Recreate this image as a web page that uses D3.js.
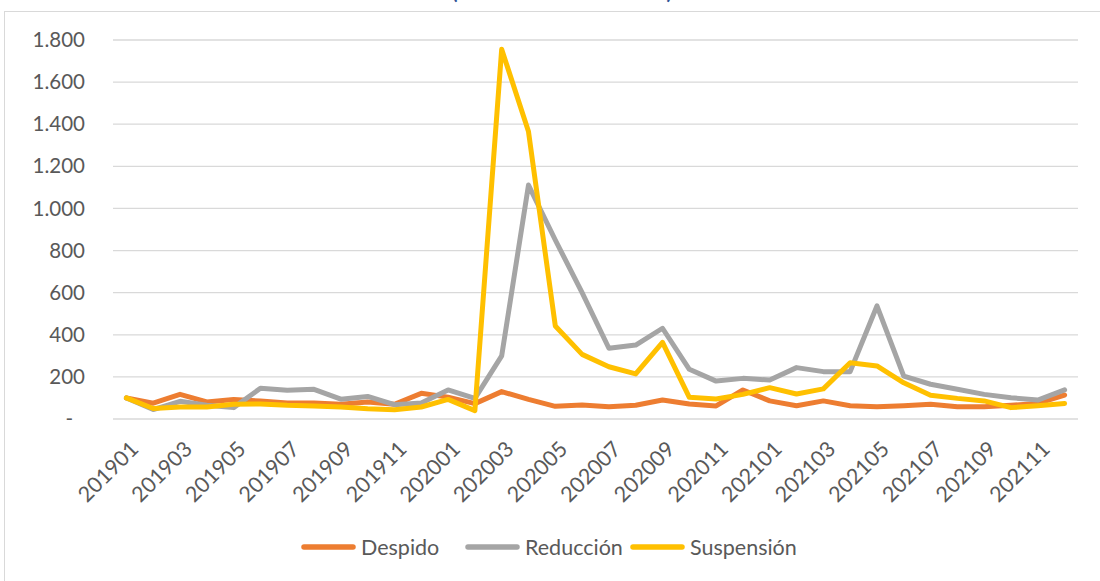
<!DOCTYPE html>
<html>
<head>
<meta charset="utf-8">
<script src="https://cdn.jsdelivr.net/npm/d3@7"></script>
<style>
  body { margin: 0; background: #fff; }
  svg { display: block; font-family: Lato, "Noto Sans", sans-serif; }
</style>
</head>
<body>
<svg id="chart" width="1100" height="581"></svg>
<script>
// months (x categories)
const months = [
  '201901','201902','201903','201904','201905','201906','201907','201908','201909','201910','201911','201912',
  '202001','202002','202003','202004','202005','202006','202007','202008','202009','202010','202011','202012',
  '202101','202102','202103','202104','202105','202106','202107','202108','202109','202110','202111','202112'
];

const despido = [100, 75, 117, 81, 93, 85, 76, 76, 70, 81, 70, 122,
  104, 73, 130, 93, 60, 66, 58, 65, 90, 71, 62, 138,
  86, 63, 86, 63, 58, 63, 70, 58, 58, 65, 74, 114];

const reduccion = [100, 45, 84, 65, 54, 146, 137, 141, 94, 107, 68, 76,
  138, 98, 300, 1111, 850, 600, 336, 351, 431, 236, 180, 193,
  185, 244, 225, 225, 537, 204, 165, 141, 117, 101, 90, 138];

const suspension = [100, 50, 57, 57, 70, 71, 65, 62, 57, 49, 44, 57,
  93, 40, 1756, 1365, 442, 307, 248, 214, 364, 103, 95, 117,
  149, 119, 143, 267, 252, 172, 113, 98, 86, 54, 63, 74];

const seriesNames = ['Despido', 'Reducción', 'Suspensión'];
const yTicks = [0, 200, 400, 600, 800, 1000, 1200, 1400, 1600, 1800];

const series = [
  { name: seriesNames[0], values: despido, color: '#ED7D31' },
  { name: seriesNames[1], values: reduccion, color: '#A5A5A5' },
  { name: seriesNames[2], values: suspension, color: '#FFC000' }
];

const svg = d3.select('#chart');
const plotLeft = 113, plotRight = 1078, plotTop = 40, plotBottom = 419;
const textColor = '#595959';

// outer frame + title (cut at the top, as in the source)
svg.append('rect')
  .attr('x', 4.5).attr('y', 11.5)
  .attr('width', 1100).attr('height', 600)
  .attr('fill', 'none')
  .attr('stroke', '#D9D9D9');

svg.append('text')
  .attr('x', 562).attr('y', -1)
  .attr('text-anchor', 'middle')
  .attr('font-size', 20)
  .attr('font-weight', 'bold')
  .attr('fill', '#2F5496')
  .attr('textLength', 220)
  .text('(Índice base 201901 = 100)');

const x = d3.scaleBand().domain(months).range([plotLeft, plotRight]);
const y = d3.scaleLinear().domain([0, 1800]).range([plotBottom, plotTop]);

const loc = d3.formatLocale({ decimal: ',', thousands: '.', grouping: [3], currency: ['', ''] });
const fmt = loc.format(',d');

// gridlines
svg.append('g')
  .selectAll('line')
  .data(yTicks)
  .join('line')
  .attr('x1', plotLeft).attr('x2', plotRight)
  .attr('y1', d => y(d)).attr('y2', d => y(d))
  .attr('stroke', '#D9D9D9')
  .attr('stroke-width', 1.3);

// y axis labels
const yAxis = svg.append('g')
  .attr('transform', `translate(${plotLeft - 28},0)`)
  .call(d3.axisLeft(y).tickValues(yTicks).tickSize(0).tickPadding(0)
    .tickFormat(d => d === 0 ? '-' : fmt(d)));
yAxis.select('.domain').remove();
yAxis.selectAll('text')
  .attr('font-family', 'Lato, sans-serif')
  .attr('font-size', 20.5)
  .attr('fill', textColor)
  .attr('dx', d => d === 0 ? -12 : 0);

// x axis labels (every other month)
const xAxis = svg.append('g')
  .attr('transform', `translate(0,${plotBottom})`)
  .call(d3.axisBottom(x).tickValues(months.filter((m, i) => i % 2 === 0)).tickSize(0).tickPadding(0));
xAxis.select('.domain').remove();
xAxis.selectAll('text')
  .attr('font-family', 'Lato, sans-serif')
  .attr('font-size', 21.5)
  .attr('fill', textColor)
  .attr('text-anchor', 'end')
  .attr('dy', null)
  .attr('y', null)
  .attr('transform', 'translate(13.5,31.5) rotate(-45)');

// lines
const line = d3.line()
  .x((d, i) => x(months[i]) + x.bandwidth() / 2)
  .y(d => y(d));

svg.append('g')
  .selectAll('path')
  .data(series)
  .join('path')
  .attr('d', d => line(d.values))
  .attr('fill', 'none')
  .attr('stroke', d => d.color)
  .attr('stroke-width', 5)
  .attr('stroke-linejoin', 'round')
  .attr('stroke-linecap', 'round');

// legend
const legendX = [361, 525, 690];
const legend = svg.append('g')
  .selectAll('g')
  .data(series)
  .join('g')
  .attr('transform', (d, i) => `translate(${legendX[i]},547)`);

legend.append('line')
  .attr('x1', -57).attr('x2', -8)
  .attr('y1', 0).attr('y2', 0)
  .attr('stroke', d => d.color)
  .attr('stroke-width', 5.5)
  .attr('stroke-linecap', 'round');

legend.append('text')
  .attr('x', 0).attr('y', 7.5)
  .attr('font-size', 21.5)
  .attr('fill', textColor)
  .text(d => d.name);
</script>
</body>
</html>
